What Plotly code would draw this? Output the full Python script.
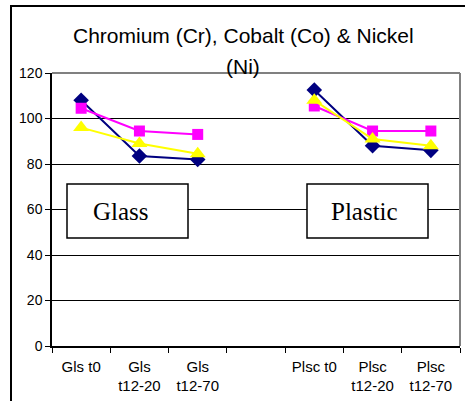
import plotly.graph_objects as go

categories = ["Gls t0", "Gls<br>t12-20", "Gls<br>t12-70", " ", "Plsc t0", "Plsc<br>t12-20", "Plsc<br>t12-70"]
chromium = [108, 83.5, 82, None, 112.5, 88, 86]
cobalt = [104.5, 94.5, 93, None, 105.5, 94.5, 94.5]
nickel = [96, 89, 84.5, None, 108, 91, 88]

series = [
    ("Cr", chromium, "#000080", "diamond", 12),
    ("Co", cobalt, "#FF00FF", "square", 11),
    ("Ni", nickel, "#FFFF00", "triangle-up", 14),
]

fig = go.Figure()
for name, vals, col, sym, sz in series:
    fig.add_trace(go.Scatter(
        x=categories, y=vals, name=name, mode="lines+markers",
        line=dict(color=col, width=2),
        marker=dict(symbol=sym, size=sz, color=col),
        connectgaps=False, showlegend=False,
    ))

W, H = 465, 401
L, R, T, B = 52, 5, 73, 55
pw = W - L - R
ph = H - T - B

def px(x):
    return (x - L) / pw

def py(y):
    return (H - B - y) / ph

fig.update_layout(
    width=W, height=H,
    margin=dict(l=L, r=R, t=T, b=B),
    paper_bgcolor="white", plot_bgcolor="white",
    font=dict(family="Liberation Sans, Arial", color="black"),
    xaxis=dict(
        type="category", categoryorder="array", categoryarray=categories,
        range=[-0.5, 6.5], showgrid=False, showline=True, linecolor="black", linewidth=1.5,
        ticks="outside", tickson="boundaries", ticklen=5, tickcolor="black",
        tickfont=dict(size=15), ticklabelstandoff=6, fixedrange=True,
    ),
    yaxis=dict(
        range=[0, 120], dtick=20, showgrid=True, gridcolor="black", gridwidth=1.2,
        showline=True, linecolor="black", linewidth=1.5, ticks="outside", ticklen=5,
        tickcolor="black", tickfont=dict(size=14), zeroline=False, fixedrange=True,
    ),
    shapes=[
        dict(type="line", xref="paper", yref="paper", x0=0, x1=1, y0=1, y1=1,
             line=dict(color="#808080", width=2)),
        dict(type="line", xref="paper", yref="paper", x0=1, x1=1, y0=0, y1=1,
             line=dict(color="#808080", width=2)),
        dict(type="rect", xref="paper", yref="paper", x0=px(11), x1=px(480), y0=py(6), y1=py(420),
             line=dict(color="black", width=2), layer="below"),
        dict(type="rect", xref="paper", yref="paper", x0=px(67), x1=px(188), y0=py(184), y1=py(238),
             line=dict(color="black", width=1.5), fillcolor="white", layer="above"),
        dict(type="rect", xref="paper", yref="paper", x0=px(307), x1=px(428), y0=py(184), y1=py(238),
             line=dict(color="black", width=1.5), fillcolor="white", layer="above"),
    ],
    annotations=[
        dict(text="Chromium (Cr), Cobalt (Co) & Nickel", xref="paper", yref="paper",
             x=px(243), y=py(35), showarrow=False, font=dict(size=21), xanchor="center", yanchor="middle"),
        dict(text="(Ni)", xref="paper", yref="paper",
             x=px(243), y=py(66), showarrow=False, font=dict(size=21), xanchor="center", yanchor="middle"),
        dict(text="Glass", xref="paper", yref="paper", x=px(121), y=py(211), showarrow=False,
             font=dict(family="Liberation Serif, Times New Roman", size=25), xanchor="center", yanchor="middle"),
        dict(text="Plastic", xref="paper", yref="paper", x=px(364), y=py(211), showarrow=False,
             font=dict(family="Liberation Serif, Times New Roman", size=25), xanchor="center", yanchor="middle"),
    ],
)

fig.write_html("out.html", config={"displayModeBar": False})
